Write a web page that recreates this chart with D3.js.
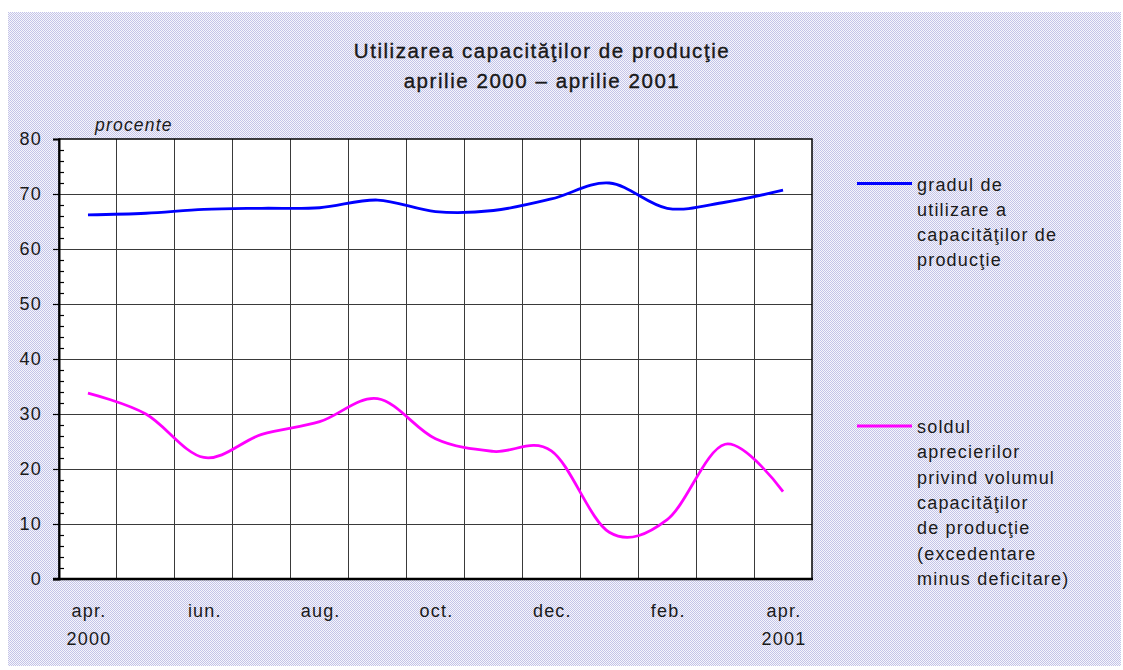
<!DOCTYPE html>
<html>
<head>
<meta charset="utf-8">
<script src="https://cdn.jsdelivr.net/npm/d3@7"></script>
<style>
	body { margin: 0; background: #fff; }
	svg text { font-family: "Liberation Sans", Arial, Helvetica, sans-serif; fill: #1a1a1a; }
</style>
</head>
<body>
<svg id="chart"></svg>
<script>
// luni: aprilie 2000 - aprilie 2001
const months = ['apr.', 'mai', 'iun.', 'iul.', 'aug.', 'sep.', 'oct.', 'nov.', 'dec.', 'ian.', 'feb.', 'mar.', 'apr.'];
const years = ['2000', '', '', '', '', '', '', '', '', '', '', '', '2001'];
const shownMonths = [0, 2, 4, 6, 8, 10, 12];

// gradul de utilizare a capacitatilor de productie
const gradul = [66.2, 66.5, 67.2, 67.4, 67.5, 68.9, 66.8, 67.0, 69.1, 72.0, 67.4, 68.5, 70.7];
// soldul aprecierilor privind volumul capacitatilor
const soldul = [33.8, 30.0, 22.1, 26.3, 28.6, 32.8, 25.5, 23.2, 23.3, 8.5, 10.8, 24.5, 15.9];

const yTicks = [0, 10, 20, 30, 40, 50, 60, 70, 80];
const legend1 = ['gradul de', 'utilizare a', 'capacităţilor de', 'producţie'];
const legend2 = ['soldul', 'aprecierilor', 'privind volumul', 'capacităţilor', 'de producţie', '(excedentare', 'minus deficitare)'];

const width = 1123;
const height = 670;
const plot = { left: 59, right: 812, top: 139, bottom: 579 };

const svg = d3.select('#chart')
	.attr('width', width)
	.attr('height', height)
	.attr('viewBox', [0, 0, width, height]);

// fundal cu puncte
const pat = svg.append('defs')
	.append('pattern')
	.attr('id', 'dots')
	.attr('width', 2)
	.attr('height', 2)
	.attr('patternUnits', 'userSpaceOnUse');
pat.append('rect').attr('width', 2).attr('height', 2).attr('fill', '#f6f6fc');
pat.append('rect').attr('width', 1).attr('height', 1).attr('fill', '#c4c4e8');
pat.append('rect').attr('x', 1).attr('y', 1).attr('width', 1).attr('height', 1).attr('fill', '#c4c4e8');

svg.append('rect')
	.attr('x', 8)
	.attr('y', 12)
	.attr('width', 1113)
	.attr('height', 654)
	.attr('fill', 'url(#dots)')
	.attr('shape-rendering', 'crispEdges');

// titlu
const title = svg.append('g')
	.attr('font-size', 20.5)
	.attr('letter-spacing', 1.55)
	.attr('text-anchor', 'middle')
	.style('stroke', '#111')
	.style('stroke-width', 0.35);
title.append('text').attr('x', 542).attr('y', 58).text('Utilizarea capacităţilor de producţie');
title.append('text').attr('x', 542).attr('y', 88).text('aprilie 2000 – aprilie 2001');

const x = d3.scaleBand()
	.domain(d3.range(months.length))
	.range([plot.left, plot.right])
	.padding(0);

const y = d3.scaleLinear()
	.domain([0, 80])
	.range([plot.bottom, plot.top]);

const cx = (i) => x(i) + x.bandwidth() / 2;

svg.append('rect')
	.attr('x', plot.left)
	.attr('y', plot.top)
	.attr('width', plot.right - plot.left)
	.attr('height', plot.bottom - plot.top)
	.attr('fill', '#fff');

// linii de grila
const grid = svg.append('g')
	.attr('stroke', '#3a3a3a')
	.attr('stroke-width', 1)
	.attr('shape-rendering', 'crispEdges');

grid.selectAll('line.h')
	.data(yTicks.filter(d => d > 0 && d < 80))
	.enter()
		.append('line')
		.attr('x1', plot.left)
		.attr('x2', plot.right)
		.attr('y1', d => y(d))
		.attr('y2', d => y(d));

grid.selectAll('line.v')
	.data(d3.range(1, months.length))
	.enter()
		.append('line')
		.attr('x1', d => x(d))
		.attr('x2', d => x(d))
		.attr('y1', plot.top)
		.attr('y2', plot.bottom);

// chenar
svg.append('rect')
	.attr('x', plot.left)
	.attr('y', plot.top)
	.attr('width', plot.right - plot.left)
	.attr('height', plot.bottom - plot.top)
	.attr('fill', 'none')
	.attr('stroke', '#000')
	.attr('stroke-width', 1.5);

// axa Y
const yAxis = svg.append('g')
	.attr('transform', `translate(${plot.left},0)`)
	.call(d3.axisLeft(y).tickValues(yTicks).tickSize(6).tickPadding(11));
yAxis.select('.domain').attr('stroke', '#000').attr('stroke-width', 2);
yAxis.selectAll('.tick line').attr('stroke', '#000').attr('stroke-width', 1.2);
yAxis.selectAll('.tick text')
	.attr('font-size', 18)
	.attr('letter-spacing', 1.2)
	.attr('fill', '#1a1a1a')
	.attr('font-family', '"Liberation Sans", Arial, sans-serif');

// diviziuni mici
const minor = svg.append('g')
	.attr('transform', `translate(${plot.left},0)`)
	.call(d3.axisRight(y).tickValues(d3.range(0, 81, 2).filter(d => d % 10 !== 0)).tickSize(5).tickFormat(''));
minor.select('.domain').remove();
minor.selectAll('.tick line').attr('stroke', '#000').attr('stroke-width', 1.2);

// axa X
svg.append('line')
	.attr('x1', plot.left - 6)
	.attr('x2', plot.right + 1)
	.attr('y1', plot.bottom)
	.attr('y2', plot.bottom)
	.attr('stroke', '#000')
	.attr('stroke-width', 2.5);

const xLabels = svg.append('g')
	.attr('font-size', 18)
	.attr('letter-spacing', 1.2)
	.attr('text-anchor', 'middle');

xLabels.selectAll('text.m')
	.data(shownMonths)
	.enter()
		.append('text')
		.attr('x', d => cx(d) + 1)
		.attr('y', 617)
		.text(d => months[d]);

xLabels.selectAll('text.yr')
	.data(shownMonths.filter(d => years[d]))
	.enter()
		.append('text')
		.attr('x', d => cx(d) + 1)
		.attr('y', 645)
		.text(d => years[d]);

svg.append('text')
	.attr('x', 95)
	.attr('y', 131)
	.attr('font-size', 17.5)
	.attr('font-style', 'italic')
	.attr('letter-spacing', 1.2)
	.text('procente');

// serii
const line = d3.line()
	.x((d, i) => cx(i))
	.y(d => y(d))
	.curve(d3.curveCardinal.tension(0));

svg.append('path')
	.datum(gradul)
	.attr('d', line)
	.attr('fill', 'none')
	.attr('stroke', '#0000ff')
	.attr('stroke-width', 2.8);

svg.append('path')
	.datum(soldul)
	.attr('d', line)
	.attr('fill', 'none')
	.attr('stroke', '#ff00ff')
	.attr('stroke-width', 2.8);

// legenda
const legendItems = [
	{ color: '#0000ff', lines: legend1, y: 183.5 },
	{ color: '#ff00ff', lines: legend2, y: 426 }
];

const legend = svg.append('g')
	.selectAll('g')
	.data(legendItems)
	.enter()
		.append('g');

legend.append('line')
	.attr('x1', 857)
	.attr('x2', 912)
	.attr('y1', d => d.y)
	.attr('y2', d => d.y)
	.attr('stroke', d => d.color)
	.attr('stroke-width', 2.8);

legend.append('text')
	.attr('font-size', 18)
	.attr('letter-spacing', 1.2)
	.selectAll('tspan')
	.data(d => d.lines.map((t, i) => ({ t: t, i: i, y: d.y })))
	.enter()
		.append('tspan')
		.attr('x', 917)
		.attr('y', d => d.y + 7 + d.i * 25.3)
		.text(d => d.t);
</script>
</body>
</html>
